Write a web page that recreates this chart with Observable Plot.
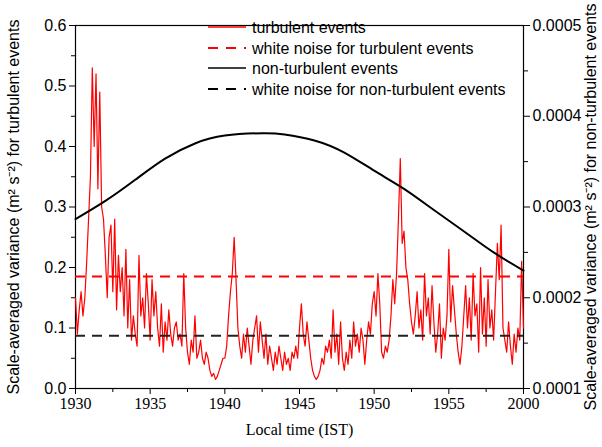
<!DOCTYPE html>
<html><head><meta charset="utf-8">
<script src="https://cdn.jsdelivr.net/npm/d3@7"></script>
<script src="https://cdn.jsdelivr.net/npm/@observablehq/plot@0.6"></script>
<style>body{margin:0;background:#fff;font-family:"Liberation Sans",Arial,sans-serif}</style>
</head><body><div id="c"></div>
<script>
const xTickLabels = ["1930","1935","1940","1945","1950","1955","2000"];
const leftTicks = [0,0.1,0.2,0.3,0.4,0.5,0.6];
const rightTickLabels = ["0.0001","0.0002","0.0003","0.0004","0.0005"];
const turbulent = [
.15,.09,.13,.16,.12,.15,.21,.28,
.35,.53,.40,.52,.33,.49,.30,.28,
.22,.15,.25,.27,.16,.28,.13,.22,
.16,.20,.12,.23,.10,.18,.08,.12,
.09,.07,.22,.12,.15,.10,.19,.14,
.08,.18,.12,.16,.10,.07,.14,.06,
.11,.08,.13,.09,.07,.10,.11,.08,
.09,.07,.19,.10,.06,.04,.08,.06,
.12,.05,.06,.08,.05,.04,.06,.05,
.03,.02,.025,.015,.02,.03,.04,.05,
.05,.07,.12,.16,.19,.25,.18,.10,
.07,.05,.09,.06,.10,.07,.04,.08,
.10,.12,.06,.11,.08,.05,.09,.04,
.07,.05,.03,.06,.04,.07,.05,.03,
.06,.04,.05,.03,.06,.05,.07,.05,
.10,.14,.09,.07,.11,.08,.05,.03,
.02,.015,.02,.03,.05,.04,.07,.06,
.08,.05,.13,.06,.09,.04,.11,.05,
.03,.06,.04,.08,.05,.11,.07,.09,
.06,.10,.08,.04,.08,.11,.09,.14,
.16,.12,.19,.14,.06,.05,.07,.06,
.08,.12,.18,.14,.19,.28,.38,.24,
.26,.20,.18,.14,.11,.09,.12,.16,
.10,.13,.08,.19,.12,.15,.09,.17,
.11,.06,.09,.14,.05,.10,.08,.12,
.23,.11,.17,.13,.09,.06,.04,.07,
.12,.17,.10,.15,.08,.19,.12,.14,
.06,.20,.09,.15,.07,.18,.10,.13,
.08,.16,.24,.18,.27,.10,.08,.06,
.11,.07,.04,.09,.06,.10,.08,.21,.10];
const nonTurbT = [0,2,4,6,8,10,12.5,14,16,18,20,22,24,26,28,30];
const nonTurbV = [.28,.31,.345,.38,.405,.418,.422,.42,.41,.39,.36,.33,.295,.26,.225,.195]; // left-axis units
const whiteTurb = 0.185, whiteNon = 0.087;

const red = turbulent.map((v,i)=>({t:i*0.125,v}));
const blk = nonTurbT.map((t,i)=>({t,v:nonTurbV[i]}));
const W=602,H=447;
const plot = Plot.plot({
  width:W,height:H,marginLeft:75,marginRight:79,marginTop:25,marginBottom:59,
  style:{fontFamily:"Liberation Sans, Arial, sans-serif",fontSize:"16px",color:"#000"},
  x:{domain:[0,30],label:null},
  y:{domain:[0,0.6],label:null},
  marks:[
    Plot.frame({stroke:"#000",strokeWidth:1.2}),
    Plot.axisX({ticks:d3.range(0,31,5),tickFormat:(d,i)=>xTickLabels[i],tickSize:6,fontSize:16,
      label:"Local time (IST)",labelAnchor:"center",labelArrow:"none",labelOffset:46,
      fontFamily:"Liberation Serif, Times New Roman, serif"}),
    Plot.axisX({ticks:d3.range(2.5,30,5),tickFormat:()=>"",tickSize:4,label:null}),
    Plot.axisY({ticks:leftTicks,tickFormat:d3.format(".1f"),tickSize:6,fontSize:16,
      label:"Scale-averaged variance (m² s⁻²) for turbulent events",labelAnchor:"center",labelArrow:"none",labelOffset:68}),
    Plot.axisY({ticks:d3.range(0.05,0.6,0.1),tickFormat:()=>"",tickSize:4,label:null}),
    Plot.axisY({anchor:"right",ticks:[0,0.15,0.3,0.45,0.6],tickFormat:(d,i)=>rightTickLabels[i],tickSize:6,fontSize:16,
      label:"Scale-averaged variance (m² s⁻²) for non-turbulent events",labelAnchor:"center",labelArrow:"none",labelOffset:72}),
    Plot.axisY({anchor:"right",ticks:[0.075,0.225,0.375,0.525],tickFormat:()=>"",tickSize:4,label:null}),
    Plot.ruleY([whiteTurb],{stroke:"#ff0000",strokeWidth:2,strokeDasharray:"10,7"}),
    Plot.line(red,{x:"t",y:"v",stroke:"#ff0000",strokeWidth:1.2}),
    Plot.ruleY([whiteNon],{stroke:"#222",strokeWidth:2,strokeDasharray:"10,7"}),
    Plot.line(blk,{x:"t",y:"v",stroke:"#000",strokeWidth:2,curve:"natural"})
  ]
});
document.getElementById("c").appendChild(plot);
const svg = d3.select(plot);
const leg = [
  {label:"turbulent events",c:"#ff0000",d:null,y:27},
  {label:"white noise for turbulent events",c:"#ff0000",d:"10,8",y:48},
  {label:"non-turbulent events",c:"#000",d:null,y:68},
  {label:"white noise for non-turbulent events",c:"#000",d:"10,8",y:89}];
const g = svg.append("g").attr("text-anchor","start");
leg.forEach(l=>{
  g.append("line").attr("x1",208).attr("x2",246).attr("y1",l.y).attr("y2",l.y)
   .attr("stroke",l.c).attr("stroke-width",l.d?2:1.5).attr("stroke-dasharray",l.d);
  g.append("text").attr("x",252).attr("y",l.y).attr("dy","0.35em").attr("font-size",16)
   .attr("text-anchor","start").attr("fill","#000").text(l.label);
});
</script></body></html>
